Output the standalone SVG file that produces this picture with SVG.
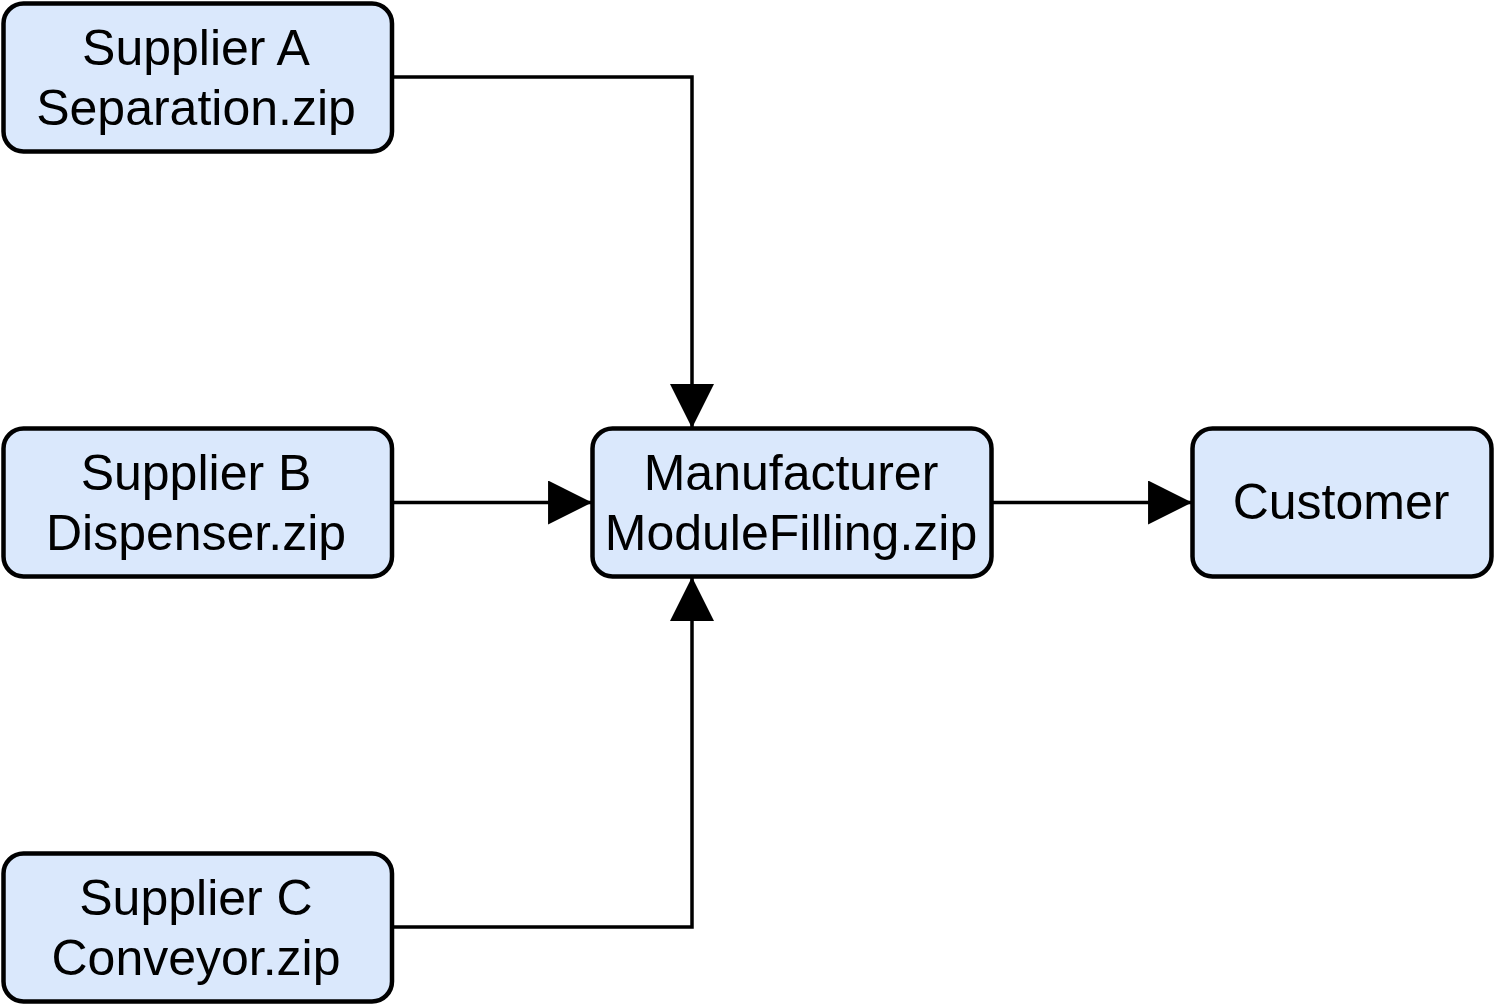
<svg xmlns="http://www.w3.org/2000/svg" width="1495" height="1005" viewBox="0 0 1495 1005">
<style>
.box{fill:#dae8fc;stroke:#000;stroke-width:4.5}
.lbl{font-family:"Liberation Sans",Arial,sans-serif;font-size:50px;fill:#000;text-anchor:middle}
.edge{fill:none;stroke:#000;stroke-width:3.5}
</style>
<defs>
<marker id="arr" markerUnits="userSpaceOnUse" markerWidth="44" markerHeight="44" viewBox="0 0 42 42" refX="41" refY="21" orient="auto">
<path d="M0,0 L42,21 L0,42 Z" fill="#000"/>
</marker>
</defs>
<g id="connectors">
<path class="edge" d="M392,77 H692 V427" marker-end="url(#arr)"/>
<path class="edge" d="M392,502.5 H591" marker-end="url(#arr)"/>
<path class="edge" d="M392,927 H692 V578" marker-end="url(#arr)"/>
<path class="edge" d="M992,502.5 H1191" marker-end="url(#arr)"/>
</g>
<g id="supplierA">
<rect class="box" x="3.5" y="3.5" width="388.5" height="148" rx="20"/>
<text class="lbl" x="196" y="65">Supplier A</text>
<text class="lbl" x="196" y="125">Separation.zip</text>
</g>
<g id="supplierB">
<rect class="box" x="3.5" y="428.5" width="388.5" height="148" rx="20"/>
<text class="lbl" x="196" y="490">Supplier B</text>
<text class="lbl" x="196" y="550">Dispenser.zip</text>
</g>
<g id="supplierC">
<rect class="box" x="3.5" y="853.5" width="388.5" height="148" rx="20"/>
<text class="lbl" x="196" y="915">Supplier C</text>
<text class="lbl" x="196" y="975">Conveyor.zip</text>
</g>
<g id="manufacturer">
<rect class="box" x="592.5" y="428.5" width="399" height="148" rx="20"/>
<text class="lbl" x="791" y="490">Manufacturer</text>
<text class="lbl" x="791" y="550">ModuleFilling.zip</text>
</g>
<g id="customer">
<rect class="box" x="1192.5" y="428.5" width="299" height="148" rx="20"/>
<text class="lbl" x="1341" y="519">Customer</text>
</g>
</svg>
